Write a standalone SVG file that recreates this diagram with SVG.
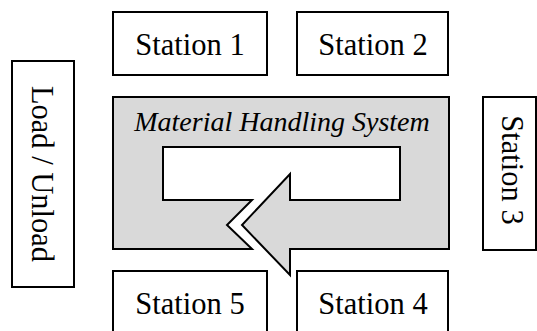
<svg xmlns="http://www.w3.org/2000/svg" width="537" height="331" viewBox="0 0 537 331">
<style>
.box{fill:#fff;stroke:#000;stroke-width:2}
.mhs{fill:#d9d9d9;stroke:#000;stroke-width:2;stroke-linejoin:miter}
.lbl{font-family:"Liberation Serif","Times New Roman",serif;font-size:30.5px;fill:#000;text-anchor:middle}
.title{font-family:"Liberation Serif","Times New Roman",serif;font-size:28px;font-style:italic;fill:#000;text-anchor:middle}
</style>
<rect width="537" height="331" fill="#fff"/>
<g id="mhs">
<path class="mhs" d="M113,97 H449 V249 H290 V275 L242,225 L290,174 V200 H400 V147 H163 V200 H252 L227,225 L252,249 H113 Z"/>
<text class="title" x="282" y="131">Material Handling System</text>
</g>
<g id="station1">
<rect class="box" x="113" y="12" width="154" height="63"/>
<text class="lbl" x="190" y="55">Station 1</text>
</g>
<g id="station2">
<rect class="box" x="297" y="12" width="151" height="63"/>
<text class="lbl" x="373" y="55">Station 2</text>
</g>
<g id="station3">
<rect class="box" x="483" y="97" width="53" height="153"/>
<text class="lbl" transform="translate(502,170) rotate(90)" x="0" y="0">Station 3</text>
</g>
<g id="station4">
<rect class="box" x="297" y="271" width="151" height="64"/>
<text class="lbl" x="373" y="314">Station 4</text>
</g>
<g id="station5">
<rect class="box" x="113" y="271" width="154" height="64"/>
<text class="lbl" x="190" y="314">Station 5</text>
</g>
<g id="loadunload">
<rect class="box" x="12" y="61" width="62" height="226"/>
<text class="lbl" transform="translate(32,174) rotate(90)" x="0" y="0">Load / Unload</text>
</g>
<g id="connectors"></g>
</svg>
